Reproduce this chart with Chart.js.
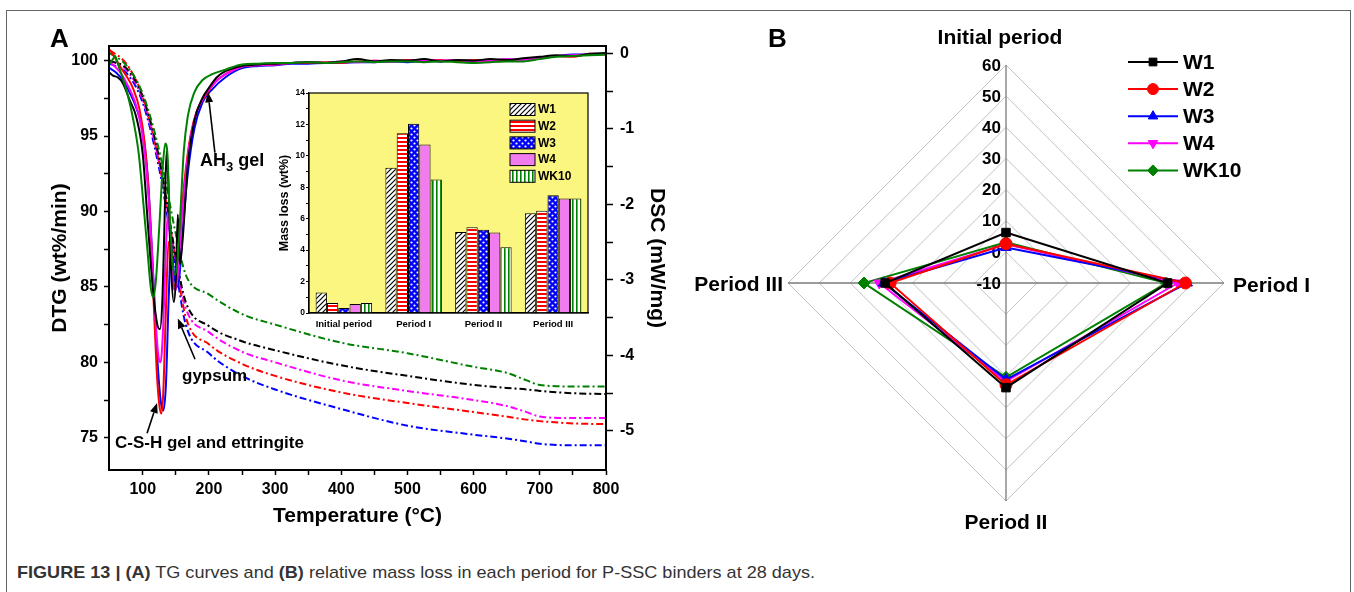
<!DOCTYPE html>
<html>
<head>
<meta charset="utf-8">
<title>Figure 13</title>
<script src="https://cdn.jsdelivr.net/npm/chart.js@4.4.1/dist/chart.umd.min.js"></script>
<style>
  html, body { margin: 0; padding: 0; background: #fff; }
  body { position: relative; width: 1354px; height: 592px; overflow: hidden; font-family: "Liberation Sans", Arial, sans-serif; }
  .frame { position: absolute; left: 6px; top: 10px; width: 1345px; height: 620px; border: 1.5px solid #666; box-sizing: border-box; }
  canvas { position: absolute; }
  .note { position: absolute; font-weight: bold; color: #000; line-height: 1; white-space: nowrap; }
  .note sub { font-size: 13px; vertical-align: -5px; line-height: 0; }
  #caption { position: absolute; left: 17px; top: 564px; font-size: 17px; color: #333; white-space: nowrap; line-height: 1; transform-origin: 0 0; }
</style>
</head>
<body>
<div class="frame"></div>
<canvas id="tg" width="690" height="540" style="left:0;top:0"></canvas>
<canvas id="inset" width="340" height="250" style="left:260px;top:85px"></canvas>
<canvas id="radar" width="660" height="540" style="left:690px;top:0"></canvas>
<div class="note" style="left:50px;top:25px;font-size:26px">A</div>
<div class="note" style="left:768px;top:25px;font-size:26px">B</div>
<div class="note" style="left:200px;top:151px;font-size:18px">AH<sub>3</sub> gel</div>
<div class="note" style="left:182px;top:367px;font-size:17px">gypsum</div>
<div class="note" style="left:115px;top:434px;font-size:17px">C-S-H gel and ettringite</div>
<div id="caption"><b>FIGURE 13 | (A)</b> TG curves and <b>(B)</b> relative mass loss in each period for P-SSC binders at 28 days.</div>
<script>
Chart.defaults.font.family = "'Liberation Sans', Arial, sans-serif";
Chart.defaults.color = '#000';
const FONT = "'Liberation Sans', Arial, sans-serif";

// ---- data: panel A, TG (dash-dot) curves ----
const tgTemp = [50, 75, 100, 125, 150, 165, 200, 250, 300, 400, 500, 600, 650, 680, 700, 750, 800];
const tgW1 = [100.0, 99.5, 97.6, 93.5, 87.0, 84.0, 82.4, 81.4, 80.8, 79.8, 79.1, 78.5, 78.3, 78.2, 78.1, 77.95, 77.9];
const tgW2 = [100.7, 99.8, 97.6, 93.2, 86.7, 83.0, 81.2, 79.9, 79.1, 78.0, 77.3, 76.7, 76.4, 76.2, 76.1, 75.95, 75.9];
const tgW3 = [99.8, 99.2, 97.2, 92.8, 86.2, 82.5, 80.6, 79.1, 78.2, 76.9, 75.8, 75.2, 74.95, 74.75, 74.6, 74.5, 74.5];
const tgW4 = [100.0, 99.4, 97.4, 93.2, 86.8, 83.6, 82.0, 80.7, 80.0, 78.8, 78.1, 77.5, 77.1, 76.7, 76.4, 76.3, 76.3];
const tgWK10 = [100.5, 99.7, 97.8, 94.0, 88.5, 85.8, 84.5, 83.2, 82.5, 81.3, 80.6, 79.7, 79.3, 78.8, 78.5, 78.4, 78.4];

// ---- data: panel A, DTG (solid) curves, dip region [temp, value] ----
const dtgDipW1 = [[50,99.2],[55,99.0],[62,98.9],[70,98.5],[80,97.4],[90,96.3],[100,93.8],[108,89.0],[116,84.5],[122,82.5],[126,82.2],[130,84.5],[133,89.5],[136,94.0],[139,91.5],[143,86.0],[147,84.0],[150,85.5],[153,89.8],[156,86.5],[160,88.0],[168,93.0],[178,96.0],[190,97.5],[200,98.2],[212,98.9],[225,99.3]];
const dtgDipW2 = [[50,100.7],[58,100.2],[66,99.6],[75,99.0],[85,98.2],[95,96.8],[103,94.5],[110,90.5],[116,84.5],[121,79.5],[125,77.2],[128,76.6],[131,78.0],[135,83.5],[139,88.0],[143,87.5],[147,85.0],[151,85.5],[156,88.5],[163,92.0],[172,95.0],[182,96.7],[195,97.7],[210,98.6],[225,99.1]];
const dtgDipW3 = [[50,99.5],[60,99.2],[70,98.7],[80,97.9],[90,96.9],[100,95.3],[108,92.0],[115,86.5],[121,81.0],[127,77.5],[131,76.8],[135,78.5],[139,84.0],[143,87.8],[147,86.0],[151,85.0],[155,85.5],[160,88.5],[168,92.5],[178,95.5],[190,97.2],[205,98.1],[225,98.9]];
const dtgDipW4 = [[50,99.9],[58,99.6],[68,99.1],[78,98.3],[88,97.3],[98,95.5],[106,92.5],[113,88.0],[119,83.0],[124,80.3],[127,80.0],[131,82.5],[135,87.5],[138,89.9],[142,87.5],[146,85.0],[150,84.8],[155,87.0],[162,91.0],[170,94.3],[180,96.4],[195,97.8],[210,98.6],[225,99.1]];
const dtgDipWK10 = [[50,99.8],[55,100.1],[58,100.3],[63,99.7],[70,98.8],[78,97.6],[86,96.0],[94,93.8],[101,90.5],[107,87.5],[112,85.0],[116,84.3],[120,85.5],[125,89.0],[130,92.8],[134,94.5],[137,94.0],[141,89.5],[145,86.5],[149,85.8],[153,87.0],[157,90.0],[162,94.0],[168,96.3],[178,97.9],[190,98.7],[205,99.1],[225,99.4]];

// ---- data: panel A, DTG flat region ----
const dtgFlatTemp = [250, 275, 300, 325, 350, 375, 400, 425, 450, 475, 500, 525, 550, 575, 600, 625, 650, 675, 700, 725, 750, 775, 800];
const dtgFlatW1 = [99.65, 99.75, 99.8, 99.85, 99.9, 99.85, 99.95, 100.1, 99.95, 100.05, 100.0, 100.1, 99.95, 100.05, 100.0, 100.1, 100.05, 100.15, 100.25, 100.35, 100.3, 100.45, 100.5];
const dtgFlatW2 = [99.6, 99.7, 99.75, 99.85, 99.85, 99.9, 99.85, 99.95, 100.0, 99.95, 100.05, 100.0, 100.05, 99.95, 100.05, 99.95, 100.0, 100.1, 100.2, 100.3, 100.25, 100.45, 100.4];
const dtgFlatW3 = [99.5, 99.65, 99.7, 99.8, 99.8, 99.85, 99.85, 99.9, 99.9, 99.95, 99.9, 100.0, 99.95, 100.0, 100.0, 100.05, 100.05, 100.1, 100.2, 100.3, 100.4, 100.4, 100.45];
const dtgFlatW4 = [99.6, 99.7, 99.75, 99.85, 99.9, 99.85, 99.95, 99.9, 100.0, 99.95, 100.0, 100.05, 100.0, 100.05, 99.95, 100.0, 100.1, 100.05, 100.2, 100.3, 100.35, 100.4, 100.45];
const dtgFlatWK10 = [99.75, 99.8, 99.85, 99.85, 99.9, 99.85, 99.9, 99.95, 99.9, 99.95, 99.95, 99.9, 99.95, 99.9, 99.85, 99.9, 99.95, 99.95, 100.1, 100.25, 100.3, 100.35, 100.4];

// ---- data: axes ticks ----
const tempTicks = [100, 150, 200, 250, 300, 350, 400, 450, 500, 550, 600, 650, 700, 750, 800];
const dtgTicks = [75, 77.5, 80, 82.5, 85, 87.5, 90, 92.5, 95, 97.5, 100];
const dscTicks = [-5, -4.5, -4, -3.5, -3, -2.5, -2, -1.5, -1, -0.5, 0];
const massTicks = [0, 1, 2, 3, 4, 5, 6, 7, 8, 9, 10, 11, 12, 13, 14];

// ---- data: inset, mass loss (wt%) ----
const samples = ['W1', 'W2', 'W3', 'W4', 'WK10'];
const periods = ['Initial period', 'Period I', 'Period II', 'Period III'];
const massW1 = [1.31, 9.24, 5.16, 6.34];
const massW2 = [0.63, 11.44, 5.45, 6.51];
const massW3 = [0.32, 12.05, 5.29, 7.49];
const massW4 = [0.57, 10.72, 5.12, 7.28];
const massWK10 = [0.63, 8.5, 4.19, 7.28];

// ---- data: panel B, relative mass loss (%) ----
const relW1 = [6.2, 41.9, 23.6, 28.8];
const relW2 = [2.6, 47.6, 22.7, 27.2];
const relW3 = [1.4, 48.2, 21.0, 29.3];
const relW4 = [2.4, 45.2, 21.6, 30.7];
const relWK10 = [3.1, 41.5, 20.3, 35.6];

// annotation arrows in data coordinates (temperature, DTG)
const arrowNotes = [
  { from: [209, 93.9], to: [198.6, 97.9] },
  { from: [179, 80.2], to: [153, 82.9] },
  { from: [106.5, 75.3], to: [121.6, 77.3] }
];

const lineColors = ['#000000', '#ff0000', '#0000ff', '#ff00ff', '#008000'];

// ---- panel A ----
const tgSeries = [tgW1, tgW2, tgW3, tgW4, tgWK10];
const dipSeries = [dtgDipW1, dtgDipW2, dtgDipW3, dtgDipW4, dtgDipWK10];
const flatSeries = [dtgFlatW1, dtgFlatW2, dtgFlatW3, dtgFlatW4, dtgFlatWK10];

const solidSets = samples.map((s, i) => ({
  label: s + ' DTG',
  data: dipSeries[i].map(p => ({ x: p[0], y: p[1] }))
    .concat(dtgFlatTemp.map((t, j) => ({ x: t, y: flatSeries[i][j] }))),
  borderColor: lineColors[i],
  borderWidth: 2
}));
const dashSets = samples.map((s, i) => ({
  label: s + ' TG',
  data: tgTemp.map((t, j) => ({ x: t, y: tgSeries[i][j] })),
  borderColor: lineColors[i],
  borderWidth: 2,
  borderDash: [7, 3, 2, 3]
}));
// green first so it ends up on top
const order = [4, 0, 3, 1, 2];

const boxPlugin = {
  id: 'box',
  afterDraw(chart, args, opts) {
    const a = chart.chartArea, ctx = chart.ctx;
    ctx.save();
    ctx.strokeStyle = '#000';
    ctx.lineWidth = opts.width || 2;
    ctx.strokeRect(a.left, a.top, a.right - a.left, a.bottom - a.top);
    ctx.restore();
  }
};

const arrowPlugin = {
  id: 'arrows',
  afterDatasetsDraw(chart) {
    const { ctx, scales: { x, y } } = chart;
    ctx.save();
    ctx.strokeStyle = '#000';
    ctx.fillStyle = '#000';
    ctx.lineWidth = 1.6;
    arrowNotes.forEach(n => {
      const x0 = x.getPixelForValue(n.from[0]), y0 = y.getPixelForValue(n.from[1]);
      const x1 = x.getPixelForValue(n.to[0]), y1 = y.getPixelForValue(n.to[1]);
      const ang = Math.atan2(y1 - y0, x1 - x0), L = 10, W = 4;
      const bx = x1 - L * Math.cos(ang), by = y1 - L * Math.sin(ang);
      ctx.beginPath(); ctx.moveTo(x0, y0); ctx.lineTo(bx, by); ctx.stroke();
      ctx.beginPath();
      ctx.moveTo(x1, y1);
      ctx.lineTo(bx + W * Math.sin(ang), by - W * Math.cos(ang));
      ctx.lineTo(bx - W * Math.sin(ang), by + W * Math.cos(ang));
      ctx.closePath(); ctx.fill();
    });
    ctx.restore();
  }
};

const tickFont = { size: 16, weight: 'bold' };
const titleFont = { size: 21, weight: 'bold' };
const outerGrid = { drawOnChartArea: false, tickLength: 5, tickColor: '#000', tickWidth: 1.5 };

new Chart(document.getElementById('tg'), {
  type: 'line',
  data: { datasets: order.map(i => solidSets[i]).concat(order.map(i => dashSets[i])) },
  options: {
    responsive: false,
    animation: false,
    layout: { padding: { top: 46, left: 0, right: 0, bottom: 0 } },
    elements: { point: { radius: 0 }, line: { cubicInterpolationMode: 'monotone' } },
    plugins: { legend: { display: false }, tooltip: { enabled: false }, box: { width: 2 } },
    scales: {
      x: {
        type: 'linear', min: 49, max: 800,
        afterBuildTicks: s => { s.ticks = tempTicks.map(v => ({ value: v })); },
        afterFit: s => { s.height = 70; },
        ticks: { font: tickFont, padding: 5, autoSkip: false, maxRotation: 0, callback: v => (v % 100 === 0 ? String(v) : '') },
        grid: outerGrid,
        border: { color: '#000', width: 2 },
        title: { display: true, text: 'Temperature (°C)', font: titleFont, padding: { top: 0, bottom: 11 } }
      },
      y: {
        position: 'left', min: 72.86, max: 100.97,
        afterBuildTicks: s => { s.ticks = dtgTicks.map(v => ({ value: v })); },
        afterFit: s => { s.width = 109; },
        ticks: { font: tickFont, padding: 6, callback: v => (v % 5 === 0 ? String(v) : '') },
        grid: outerGrid,
        border: { color: '#000', width: 2 },
        title: { display: true, text: 'DTG (wt%/min)', font: titleFont, padding: { top: 48, bottom: 0 } }
      },
      y2: {
        position: 'right', min: -5.52, max: 0.097,
        afterBuildTicks: s => { s.ticks = dscTicks.map(v => ({ value: v })); },
        afterFit: s => { s.width = 84; },
        ticks: { font: tickFont, padding: 7, callback: v => (Number.isInteger(v) ? String(v) : '') },
        grid: Object.assign({}, outerGrid, { tickLength: 7 }),
        border: { color: '#000', width: 2 },
        title: { display: true, text: 'DSC (mW/mg)', font: titleFont, padding: { top: 21, bottom: 0 } }
      }
    }
  },
  plugins: [boxPlugin, arrowPlugin]
});

// ---- inset bar chart ----
function makePattern(w, h, draw) {
  const c = document.createElement('canvas');
  c.width = w; c.height = h;
  const g = c.getContext('2d');
  draw(g, w, h);
  return g.createPattern(c, 'repeat');
}
const barFills = [
  makePattern(5, 5, (g, w, h) => {
    g.fillStyle = '#fff'; g.fillRect(0, 0, w, h);
    g.strokeStyle = '#000'; g.lineWidth = 1.2;
    g.beginPath();
    g.moveTo(-1, h + 1); g.lineTo(w + 1, -1);
    g.moveTo(-1, 1); g.lineTo(1, -1);
    g.moveTo(w - 1, h + 1); g.lineTo(w + 1, h - 1);
    g.stroke();
  }),
  makePattern(4, 4, (g, w, h) => {
    g.fillStyle = '#fff'; g.fillRect(0, 0, w, h);
    g.fillStyle = '#ff0000'; g.fillRect(0, 0, w, 2);
  }),
  makePattern(6, 6, (g, w, h) => {
    g.fillStyle = '#0000ff'; g.fillRect(0, 0, w, h);
    g.fillStyle = '#fff';
    g.beginPath(); g.arc(1.5, 1.5, 1.1, 0, Math.PI * 2); g.fill();
    g.beginPath(); g.arc(4.5, 4.5, 1.1, 0, Math.PI * 2); g.fill();
  }),
  '#f07cf0',
  makePattern(4, 4, (g, w, h) => {
    g.fillStyle = '#fff'; g.fillRect(0, 0, w, h);
    g.fillStyle = '#008000'; g.fillRect(0, 0, 1.6, h);
  })
];
const massSeries = [massW1, massW2, massW3, massW4, massWK10];

const yellowPlugin = {
  id: 'yellow',
  beforeDraw(chart) {
    const a = chart.chartArea, ctx = chart.ctx;
    ctx.save();
    ctx.fillStyle = '#fbf67f';
    ctx.fillRect(a.left, a.top, a.right - a.left, a.bottom - a.top);
    ctx.restore();
  }
};
const insetLegend = {
  id: 'insetLegend',
  afterDraw(chart) {
    const a = chart.chartArea, ctx = chart.ctx;
    ctx.save();
    ctx.font = 'bold 12px ' + FONT;
    ctx.textBaseline = 'middle';
    ctx.textAlign = 'left';
    chart.data.datasets.forEach((ds, i) => {
      const x = a.right - 78, y = a.top + 10.5 + i * 16.7;
      ctx.fillStyle = ds.backgroundColor;
      ctx.fillRect(x, y, 25, 12);
      ctx.strokeStyle = '#000'; ctx.lineWidth = 1;
      ctx.strokeRect(x, y, 25, 12);
      ctx.fillStyle = '#000';
      ctx.fillText(ds.label, x + 28, y + 6.5);
    });
    ctx.restore();
  }
};

new Chart(document.getElementById('inset'), {
  type: 'bar',
  data: {
    labels: periods,
    datasets: samples.map((s, i) => ({
      label: s, data: massSeries[i], backgroundColor: barFills[i],
      borderColor: '#000', borderWidth: 1, categoryPercentage: 0.81, barPercentage: 1
    }))
  },
  options: {
    responsive: false,
    animation: false,
    layout: { padding: { top: 8, right: 12, left: 0, bottom: 0 } },
    plugins: { legend: { display: false }, tooltip: { enabled: false }, box: { width: 1.2 } },
    scales: {
      x: {
        afterFit: s => { s.height = 22; },
        grid: { display: false, drawTicks: false },
        border: { color: '#000', width: 1.2 },
        ticks: { font: { size: 9.5, weight: 'bold' }, padding: 6, maxRotation: 0 }
      },
      y: {
        min: 0, max: 14,
        afterBuildTicks: s => { s.ticks = massTicks.map(v => ({ value: v })); },
        afterFit: s => { s.width = 49; },
        ticks: { font: { size: 8.5, weight: 'bold' }, padding: 1, callback: v => (v % 2 === 0 ? String(v) : '') },
        grid: { drawOnChartArea: false, tickLength: 3, tickColor: '#000' },
        border: { color: '#000', width: 1.2 },
        title: { display: true, text: 'Mass loss (wt%)', font: { size: 12.5, weight: 'bold' }, padding: { top: 17, bottom: 0 } }
      }
    }
  },
  plugins: [yellowPlugin, boxPlugin, insetLegend]
});

// ---- panel B, radar ----
const relSeries = [relW1, relW2, relW3, relW4, relWK10];
const markerStyles = ['rect', 'circle', 'triangle', 'triangle', 'rectRot'];
const markerRot = [0, 0, 0, 180, 0];

const radarText = {
  id: 'radarText',
  beforeDatasetsDraw(chart) {
    const r = chart.scales.r, ctx = chart.ctx;
    ctx.save();
    ctx.fillStyle = '#000';
    ctx.font = 'bold 17px ' + FONT;
    ctx.textAlign = 'right';
    ctx.textBaseline = 'middle';
    r.ticks.forEach(t => {
      ctx.fillText(String(t.value), r.xCenter - 5, r.yCenter - r.getDistanceFromCenterForValue(t.value) + 1);
    });
    ctx.restore();
  },
  afterDraw(chart) {
    const r = chart.scales.r, ctx = chart.ctx, R = r.drawingArea;
    ctx.save();
    ctx.fillStyle = '#000';
    ctx.font = 'bold 21px ' + FONT;
    ctx.textBaseline = 'middle';
    let p = r.getPointPosition(0, R + 27);
    ctx.textAlign = 'center'; ctx.fillText(periods[0], p.x - 6, p.y);
    p = r.getPointPosition(1, R + 9);
    ctx.textAlign = 'left'; ctx.fillText(periods[1], p.x, p.y + 3);
    p = r.getPointPosition(2, R + 22);
    ctx.textAlign = 'center'; ctx.fillText(periods[2], p.x, p.y);
    p = r.getPointPosition(3, R + 5);
    ctx.textAlign = 'right'; ctx.fillText(periods[3], p.x, p.y + 2);
    ctx.restore();
  }
};

const radarLegend = {
  id: 'radarLegend',
  afterDraw(chart) {
    const ctx = chart.ctx;
    ctx.save();
    ctx.font = 'bold 21px ' + FONT;
    ctx.textBaseline = 'middle';
    ctx.textAlign = 'left';
    chart.data.datasets.forEach((ds, i) => {
      const y = 62 + i * 27.1, x0 = 438, x1 = 488;
      ctx.strokeStyle = ds.borderColor; ctx.lineWidth = 2;
      ctx.beginPath(); ctx.moveTo(x0, y); ctx.lineTo(x1, y); ctx.stroke();
      ctx.fillStyle = ds.pointBackgroundColor; ctx.lineWidth = 1;
      Chart.helpers.drawPoint(ctx, { pointStyle: ds.pointStyle, rotation: ds.pointRotation, radius: 5.5, borderWidth: 1 }, (x0 + x1) / 2, y);
      ctx.fillStyle = '#000';
      ctx.fillText(ds.label, 493, y + 1);
    });
    ctx.restore();
  }
};

new Chart(document.getElementById('radar'), {
  type: 'radar',
  data: {
    labels: periods,
    datasets: samples.map((s, i) => ({
      label: s, data: relSeries[i], fill: false,
      borderColor: lineColors[i], backgroundColor: lineColors[i],
      pointBackgroundColor: lineColors[i], pointBorderColor: lineColors[i],
      pointStyle: markerStyles[i], pointRotation: markerRot[i],
      pointRadius: 6, pointBorderWidth: 1, borderWidth: 2
    }))
  },
  options: {
    responsive: false,
    animation: false,
    layout: { padding: { left: 98, top: 65, right: 126, bottom: 39 } },
    plugins: { legend: { display: false }, tooltip: { enabled: false } },
    elements: { line: { tension: 0 } },
    scales: {
      r: {
        min: -10, max: 60,
        ticks: { stepSize: 10, display: false },
        pointLabels: { display: false },
        grid: { color: '#c2c2c2', lineWidth: 1 },
        angleLines: { color: '#7a7a7a', lineWidth: 1.3 }
      }
    }
  },
  plugins: [radarText, radarLegend]
});

// caption width as in the figure
const cap = document.getElementById('caption');
cap.style.transform = 'scaleX(' + (798 / cap.getBoundingClientRect().width) + ')';
</script>
</body>
</html>
